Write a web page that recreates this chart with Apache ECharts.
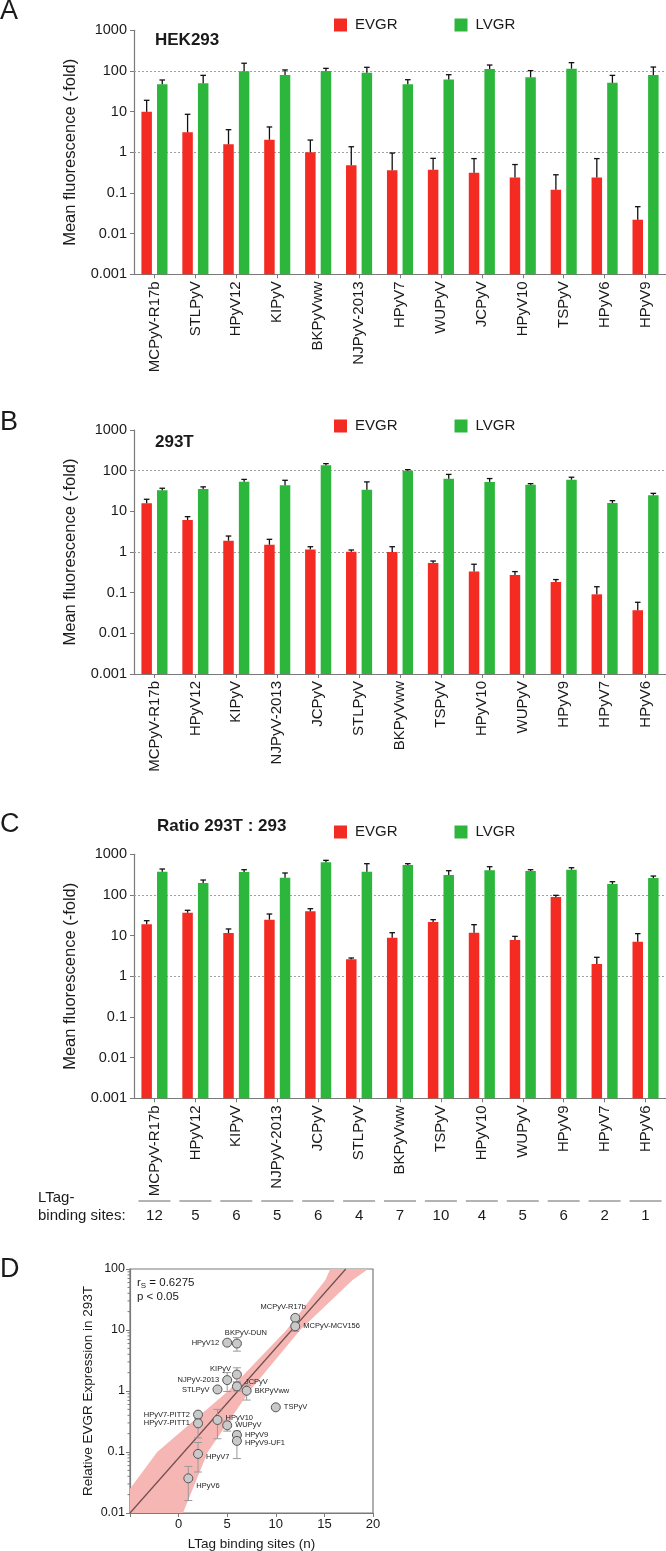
<!DOCTYPE html>
<html><head><meta charset="utf-8">
<script src="https://cdn.jsdelivr.net/npm/echarts@6/dist/echarts.min.js"></script>
<style>html,body{margin:0;padding:0;background:#fff}#c{width:666px;height:1551px}</style>
</head><body><div id="c"></div>
<script>
// ---------- DATA ----------
const catsA = ['MCPyV-R17b','STLPyV','HPyV12','KIPyV','BKPyVww','NJPyV-2013','HPyV7','WUPyV','JCPyV','HPyV10','TSPyV','HPyV6','HPyV9'];
const evgrA = [10, 3.1, 1.57, 2.04, 1.0, 0.48, 0.36, 0.37, 0.315, 0.24, 0.12, 0.24, 0.022];
const evgrAErr = [19, 8.6, 3.6, 4.2, 2.0, 1.37, 0.96, 0.71, 0.70, 0.50, 0.28, 0.70, 0.046];
const lvgrA = [47, 50, 99, 80, 100, 90, 47, 62, 112, 70, 114, 51, 80];
const lvgrAErr = [60, 78, 155, 106, 116, 123, 61, 81, 140, 102, 160, 78, 125];

const catsB = ['MCPyV-R17b','HPyV12','KIPyV','NJPyV-2013','JCPyV','STLPyV','BKPyVww','TSPyV','HPyV10','WUPyV','HPyV9','HPyV7','HPyV6'];
const evgrB = [15.7, 6.1, 1.9, 1.51, 1.16, 1.02, 1.0, 0.54, 0.33, 0.27, 0.183, 0.091, 0.037];
const evgrBErr = [19.8, 7.4, 2.47, 2.05, 1.35, 1.12, 1.35, 0.6, 0.5, 0.33, 0.21, 0.14, 0.058];
const lvgrB = [33, 35.5, 53.5, 44, 135, 34, 100, 63.5, 53, 45, 60, 16, 24.8];
const lvgrBErr = [37, 40, 61, 58, 149, 53, 106, 81, 64, 48, 69, 18.3, 27.7];

const catsC = ['MCPyV-R17b','HPyV12','KIPyV','NJPyV-2013','JCPyV','STLPyV','BKPyVww','TSPyV','HPyV10','WUPyV','HPyV9','HPyV7','HPyV6'];
const evgrC = [19, 36.6, 11.6, 24.7, 39.6, 2.62, 8.9, 21.6, 11.8, 7.8, 89, 2.0, 7.1];
const evgrCErr = [23.3, 42, 14.6, 34, 46, 2.82, 11.8, 24.7, 18.6, 9.6, 98, 2.93, 11.2];
const lvgrC = [373, 197, 367, 266, 636, 373, 546, 310, 404, 388, 418, 186, 261];
const lvgrCErr = [435, 233, 418, 347, 711, 588, 588, 395, 495, 418, 468, 212, 292];
const ltagSites = [12, 5, 6, 5, 6, 4, 7, 10, 4, 5, 6, 2, 1];

const dNames = ['MCPyV-R17b','MCPyV-MCV156','HPyV12','BKPyV-DUN','KIPyV','NJPyV-2013','JCPyV','STLPyV','BKPyVww','TSPyV','HPyV7-PITT2','HPyV7-PITT1','HPyV10','WUPyV','HPyV9','HPyV9-UF1','HPyV7','HPyV6'];
const dSites = [12, 12, 5, 6, 6, 5, 6, 4, 7, 10, 2, 2, 4, 5, 6, 6, 2, 1];
const dEvgr = [15.8, 11.5, 6.2, 6.0, 1.86, 1.51, 1.19, 1.06, 1.01, 0.54, 0.41, 0.295, 0.335, 0.274, 0.19, 0.152, 0.093, 0.037];
const dErrLow = [null, 9.5, null, 4.5, 1.4, 0.98, 1.0, null, 0.71, null, null, 0.17, 0.165, 0.22, 0.16, 0.078, 0.047, 0.016];
const dErrHigh = [null, 13, null, 7.5, 2.4, 2.0, 1.4, null, 1.25, null, null, 0.35, 0.5, 0.32, 0.22, 0.2, 0.143, 0.058];
const fitLineX = [-5, 17.2];
const fitLineY = [0.01, 100];
const bandX = [-5, -5, -2.2, 5.1, 11.1, 15.1, 15.6, 19.5, 17.9, 12.5, 7.3, 3.0, 0.45];
const bandY = [0.01, 0.025, 0.1, 1, 10, 66, 100, 100, 66, 10, 1, 0.1, 0.01];
const logTicks = ['0.001', '0.01', '0.1', '1', '10', '100', '1000'];
const dMinorTicks = [0.02,0.03,0.04,0.05,0.06,0.07,0.08,0.09, 0.2,0.3,0.4,0.5,0.6,0.7,0.8,0.9, 2,3,4,5,6,7,8,9, 20,30,40,50,60,70,80,90];

// ---------- STYLE ----------
const FONT = 'Liberation Sans, Arial, sans-serif';
const RED = '#f42b23', GREEN = '#2db63c', AXIS = '#7a7a7a', TXT = '#1a1a1a';
const labelPos = {
  'MCPyV-R17b': {position: 'top', offset: [-12, 1]},
  'MCPyV-MCV156': {position: 'right'},
  'HPyV12': {position: 'left'},
  'BKPyV-DUN': {position: 'top', offset: [9, 1]},
  'KIPyV': {position: 'left', offset: [2, -6]},
  'NJPyV-2013': {position: 'left'},
  'JCPyV': {position: 'right', offset: [0, -4]},
  'STLPyV': {position: 'left'},
  'BKPyVww': {position: 'right'},
  'TSPyV': {position: 'right'},
  'HPyV7-PITT2': {position: 'left'},
  'HPyV7-PITT1': {position: 'left'},
  'HPyV10': {position: 'right', offset: [0, -2]},
  'WUPyV': {position: 'right'},
  'HPyV9': {position: 'right'},
  'HPyV9-UF1': {position: 'right', offset: [0, 2]},
  'HPyV7': {position: 'right', offset: [0, 3]},
  'HPyV6': {position: 'right', offset: [0, 8]}
};

function fmtLog(v) { return logTicks.find(t => Math.abs(Math.log10(+t) - Math.log10(v)) < 1e-6) || String(v); }

function barRender(offset) {
  return function (params, api) {
    const i = api.value(0), v = api.value(1), e = api.value(2);
    const top = api.coord([i, v]);
    const base = api.coord([i, 0.001]);
    const et = api.coord([i, e]);
    const x = top[0] + offset, w = 10.5;
    return {type: 'group', children: [
      {type: 'rect', shape: {x: x - w / 2, y: top[1], width: w, height: base[1] - top[1]}, style: {fill: api.visual('color')}},
      {type: 'line', shape: {x1: x, y1: top[1], x2: x, y2: et[1]}, style: {stroke: '#111', lineWidth: 1.3}},
      {type: 'line', shape: {x1: x - 2.8, y1: et[1], x2: x + 2.8, y2: et[1]}, style: {stroke: '#111', lineWidth: 1.3}}
    ]};
  };
}
function barSeries(name, color, idx, vals, errs, offset, withGrid) {
  const s = {
    name, type: 'custom', xAxisIndex: idx, yAxisIndex: idx, itemStyle: {color},
    renderItem: barRender(offset), encode: {x: 0, y: 1},
    data: vals.map((v, i) => [i, v, errs[i]]), z: 3
  };
  if (withGrid) {
    s.markLine = {silent: true, symbol: 'none', label: {show: false}, z: 1,
      lineStyle: {type: [2, 2], color: '#a0a0a0', width: 1},
      data: [{yAxis: 100}, {yAxis: 1}]};
  }
  return s;
}
function catAxis(gi, cats) {
  return {type: 'category', gridIndex: gi, data: cats, boundaryGap: true,
    axisLine: {show: true, lineStyle: {color: AXIS, width: 1.2}},
    axisTick: {show: true, alignWithLabel: true, length: 4, lineStyle: {color: AXIS}},
    axisLabel: {rotate: 90, interval: 0, fontSize: 15, color: TXT, fontFamily: FONT, margin: 7},
    splitLine: {show: false}};
}
function logAxis(gi) {
  return {type: 'log', gridIndex: gi, logBase: 10, min: 0.001, max: 1000, splitNumber: 6,
    name: 'Mean fluorescence (-fold)', nameLocation: 'middle', nameGap: 55,
    nameTextStyle: {fontSize: 16.5, color: TXT, fontFamily: FONT},
    axisLine: {show: true, onZero: false, lineStyle: {color: AXIS, width: 1.2}},
    axisTick: {show: true, length: 4, lineStyle: {color: AXIS}},
    axisLabel: {fontSize: 14.5, color: TXT, fontFamily: FONT, margin: 7, formatter: fmtLog},
    splitLine: {show: false}};
}
function legendAt(top) {
  return {top, left: 329, itemWidth: 13, itemHeight: 13, itemGap: 57, icon: 'rect',
    data: ['EVGR', 'LVGR'], selectedMode: false,
    textStyle: {fontSize: 15, color: TXT, fontFamily: FONT, padding: [0, 0, 0, 3]}};
}
function txt(text, x, y, size, weight, extra) {
  return Object.assign({type: 'text', x, y, style: {text, font: (weight || 'normal') + ' ' + size + 'px ' + FONT, fill: TXT, textVerticalAlign: 'middle', verticalAlign: 'middle'}}, extra || {});
}

const gridCommon = {containLabel: false, outerBoundsMode: 'none'};
const option = {
  animation: false,
  backgroundColor: '#fff',
  textStyle: {fontFamily: FONT},
  grid: [
    Object.assign({left: 134, top: 30.3, width: 532, height: 244}, gridCommon),
    Object.assign({left: 134, top: 430, width: 532, height: 244}, gridCommon),
    Object.assign({left: 134, top: 854.3, width: 532, height: 244}, gridCommon),
    Object.assign({left: 130, top: 1269, width: 243, height: 244, show: true, borderColor: AXIS, borderWidth: 1.2, backgroundColor: 'transparent'}, gridCommon),
    Object.assign({left: 134, top: 1201, width: 532, height: 15}, gridCommon)
  ],
  xAxis: [
    catAxis(0, catsA), catAxis(1, catsB), catAxis(2, catsC),
    {type: 'value', gridIndex: 3, min: -5, max: 20, interval: 5,
      name: 'LTag binding sites (n)', nameLocation: 'middle', nameGap: 24,
      nameTextStyle: {fontSize: 13.5, color: TXT, fontFamily: FONT},
      axisLine: {show: true, onZero: false, lineStyle: {color: AXIS, width: 1.2}},
      axisTick: {show: true, length: 4, lineStyle: {color: AXIS}},
      axisLabel: {fontSize: 13, color: TXT, fontFamily: FONT, margin: 5, formatter: v => v < 0 ? '' : String(v)},
      splitLine: {show: false}},
    {type: 'category', gridIndex: 4, data: catsC, show: false}
  ],
  yAxis: [
    logAxis(0), logAxis(1), logAxis(2),
    {type: 'log', gridIndex: 3, logBase: 10, min: 0.01, max: 100, splitNumber: 4,
      name: 'Relative EVGR Expression in 293T', nameLocation: 'middle', nameGap: 35,
      nameTextStyle: {fontSize: 13.5, color: TXT, fontFamily: FONT},
      axisLine: {show: true, onZero: false, lineStyle: {color: AXIS, width: 1.2}},
      axisTick: {show: true, length: 4, lineStyle: {color: AXIS}},
      axisLabel: {fontSize: 12.5, color: TXT, fontFamily: FONT, margin: 5, formatter: fmtLog},
      splitLine: {show: false}},
    {type: 'value', gridIndex: 4, min: 0, max: 1, show: false}
  ],
  legend: [legendAt(12.5), legendAt(413.5), legendAt(819.5)],
  series: [
    barSeries('EVGR', RED, 0, evgrA, evgrAErr, -7.8, true),
    barSeries('LVGR', GREEN, 0, lvgrA, lvgrAErr, 7.8, false),
    barSeries('EVGR', RED, 1, evgrB, evgrBErr, -7.8, true),
    barSeries('LVGR', GREEN, 1, lvgrB, lvgrBErr, 7.8, false),
    barSeries('EVGR', RED, 2, evgrC, evgrCErr, -7.8, true),
    barSeries('LVGR', GREEN, 2, lvgrC, lvgrCErr, 7.8, false),
    {type: 'custom', name: 'band', xAxisIndex: 3, yAxisIndex: 3, z: 1, silent: true,
      data: [[0, 1]],
      renderItem: function (params, api) {
        const pts = bandX.map((x, i) => api.coord([x, bandY[i]]));
        return {type: 'polygon', shape: {points: pts}, style: {fill: '#f6b6b4'}};
      }},
    {type: 'custom', name: 'minor', xAxisIndex: 3, yAxisIndex: 3, z: 5, silent: true,
      data: dMinorTicks.map(v => [-5, v]),
      renderItem: function (params, api) {
        const p = api.coord([api.value(0), api.value(1)]);
        return {type: 'line', shape: {x1: p[0] - 2.5, y1: p[1], x2: p[0], y2: p[1]}, style: {stroke: AXIS, lineWidth: 1}};
      }},
    {type: 'line', name: 'fit', xAxisIndex: 3, yAxisIndex: 3, z: 2, symbol: 'none', silent: true,
      data: fitLineX.map((x, i) => [x, fitLineY[i]]),
      lineStyle: {color: '#6e5050', width: 1.2}},
    {type: 'custom', name: 'err', xAxisIndex: 3, yAxisIndex: 3, z: 3, silent: true,
      data: dSites.map((x, i) => [x, dErrLow[i], dErrHigh[i]]),
      renderItem: function (params, api) {
        const i = params.dataIndex;
        if (dErrLow[i] == null) return null;
        const lo = api.coord([dSites[i], dErrLow[i]]);
        const hi = api.coord([dSites[i], dErrHigh[i]]);
        const st = {stroke: '#9a9a9a', lineWidth: 1};
        return {type: 'group', children: [
          {type: 'line', shape: {x1: lo[0], y1: lo[1], x2: hi[0], y2: hi[1]}, style: st},
          {type: 'line', shape: {x1: lo[0] - 4, y1: lo[1], x2: lo[0] + 4, y2: lo[1]}, style: st},
          {type: 'line', shape: {x1: hi[0] - 4, y1: hi[1], x2: hi[0] + 4, y2: hi[1]}, style: st}
        ]};
      }},
    {type: 'scatter', name: 'pts', xAxisIndex: 3, yAxisIndex: 3, z: 4, symbolSize: 9,
      itemStyle: {color: '#c9c9c9', borderColor: '#555', borderWidth: 1, opacity: 1},
      label: {show: true, fontSize: 7.5, color: TXT, fontFamily: FONT, distance: 3, formatter: p => p.name},
      data: dNames.map((n, i) => Object.assign({name: n, value: [dSites[i], dEvgr[i]]},
        {label: Object.assign({show: true}, labelPos[n])}))},
    {type: 'custom', name: 'ltag', xAxisIndex: 4, yAxisIndex: 4, silent: true,
      data: ltagSites.map((v, i) => [i, v]),
      renderItem: function (params, api) {
        const i = api.value(0), v = api.value(1);
        const d = api.coord([i, 1]);
        const t = api.coord([i, 0]);
        return {type: 'group', children: [
          {type: 'line', shape: {x1: d[0] - 16, y1: d[1], x2: d[0] + 16, y2: d[1]}, style: {stroke: '#9a9a9a', lineWidth: 1.5}},
          {type: 'text', x: t[0], y: t[1], style: {text: String(v), font: '15px ' + FONT, fill: TXT, align: 'center', textAlign: 'center', verticalAlign: 'middle', textVerticalAlign: 'middle'}}
        ]};
      }}
  ],
  graphic: [
    txt('A', 0, 12, 27),
    txt('B', 0, 423, 27),
    txt('C', 0, 825, 27),
    txt('D', 0, 1270, 27),
    txt('HEK293', 155, 40, 17, 'bold'),
    txt('293T', 155, 442, 17, 'bold'),
    txt('Ratio 293T : 293', 157, 826, 17, 'bold'),
    txt('LTag-', 38, 1198, 15),
    txt('binding sites:', 38, 1216, 15),
    {type: 'text', x: 137, y: 1283, style: {
      text: '{a|r}{s|S}{a| = 0.6275}', fill: TXT, textVerticalAlign: 'middle', verticalAlign: 'middle',
      rich: {a: {fontSize: 11.5, fontFamily: FONT, fill: TXT, color: TXT}, s: {fontSize: 8, fontFamily: FONT, fill: TXT, color: TXT, padding: [6, 0, 0, 0]}}}},
    txt('p < 0.05', 137, 1297, 11.5)
  ]
};
const chart = echarts.init(document.getElementById('c'), null, {renderer: 'canvas'});
chart.setOption(option);
</script></body></html>
